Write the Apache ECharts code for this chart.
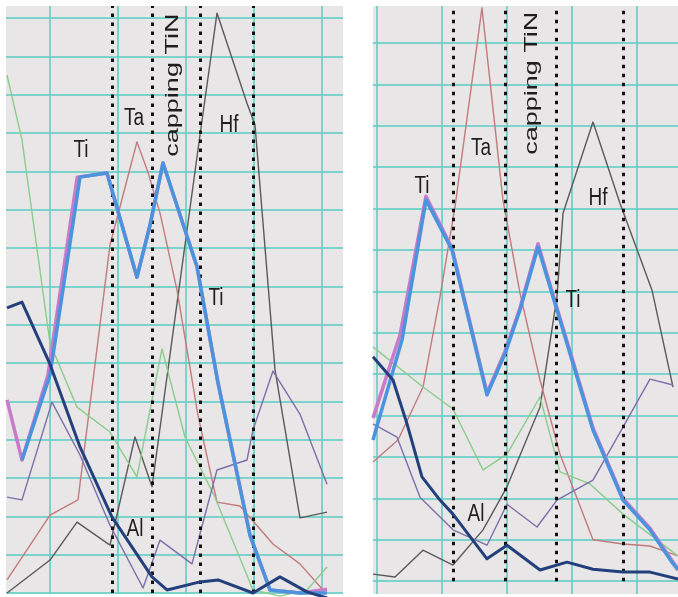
<!DOCTYPE html>
<html><head><meta charset="utf-8">
<script src="https://cdn.jsdelivr.net/npm/echarts@6/dist/echarts.min.js"></script>
<style>html,body{margin:0;padding:0;background:#fff}#c{width:678px;height:597px}</style>
</head><body><div id="c"></div>
<script>
// ---------- LEFT PANEL (depth units, intensity units) ----------
const leftTiX = [5.88,10.0,14.41,18.38,22.79,24.71,26.62,31.62,34.71,39.41,42.35,46.76,50.74];
const leftTiY = [34.7,56.9,108.5,109.6,82.4,96.0,112.2,85.1,54.8,15.1,0.8,0,0];
const leftTi2X = [3.68,5.88,9.7,14.0,18.38,22.79,24.71,26.62,31.62,34.71,39.41,42.35,46.76,50.74];
const leftTi2Y = [50.4,34.7,56.9,108.5,109.6,82.4,96.0,112.2,85.1,54.8,15.1,0.8,0,1.0];
const leftAlX = [3.68,5.88,10.0,14.41,19.12,25.0,27.21,32.06,34.71,39.85,43.82,47.79,50.74];
const leftAlY = [74.4,75.9,59.7,38.1,19.8,4.2,0.8,2.9,3.4,0,4.2,0.3,-1.3];
const leftGreenX = [3.68,5.88,10.0,13.97,18.82,22.79,26.47,29.85,34.26,39.85,43.82,47.79,50.74];
const leftGreenY = [135.1,118.2,65.2,48.5,42.0,30.3,63.7,40.7,25.0,0.8,-0.8,0.8,6.8];
const leftTaX = [3.68,10.0,14.12,18.82,22.79,24.41,26.18,28.68,31.76,34.56,37.94,42.79,46.76,50.15];
const leftTaY = [3.4,20.3,24.3,90.8,117.7,109.8,99.1,79.0,46.4,23.7,22.7,12.8,7.6,0.8];
const leftHfX = [3.68,10.0,13.97,18.82,22.5,25.0,27.94,32.06,34.56,38.97,40.15,43.09,46.76,50.74];
const leftHfY = [0,8.6,18.5,12.5,40.7,27.7,66.0,119.5,151.3,127.8,122.1,58.2,19.6,21.1];
const leftPurpleX = [3.68,5.88,10.29,14.41,18.82,23.68,26.18,30.88,34.56,38.97,39.85,42.79,46.76,50.74];
const leftPurpleY = [25.0,24.3,49.8,36.0,17.7,1.3,13.8,7.6,32.1,34.7,42.5,57.9,46.7,28.4];
const leftBoundaries = [19.12,25.0,32.06,39.85];
const leftLabels = [
  {text:'Ti', x:14.56, y:115.6},
  {text:'Ta', x:22.35, y:123.9},
  {text:'Hf', x:36.32, y:122.1},
  {text:'Ti', x:34.41, y:77.0},
  {text:'Al', x:22.5, y:16.7}
];
const leftCapping = {text:'capping TiN', x:28.09, y:132.5};

// ---------- RIGHT PANEL ----------
const rightTiX = [-0.62,3.85,7.54,11.54,16.92,19.69,22.0,24.77,27.69,31.23,33.23,37.85,42.0,45.38,46.31];
const rightTiY = [34.1,58.3,92.1,80.0,45.0,54.9,65.5,80.7,65.5,46.9,36.5,19.6,12.4,4.6,2.7];
const rightTi2X = [-0.62,3.54,7.54,11.54,16.92,19.69,22.0,24.77,27.69,31.23,33.23,37.85,42.0,45.38,46.31];
const rightTi2Y = [39.4,59.5,93.0,80.5,45.5,55.5,66.0,81.5,66.0,47.5,37.0,20.0,12.8,5.0,3.0];
const rightAlX = [-0.62,2.46,4.62,6.92,9.69,11.69,16.92,20.0,25.08,29.23,33.23,37.85,42.0,46.31];
const rightAlY = [54.2,48.6,38.0,25.2,19.6,16.2,5.4,8.7,2.7,4.6,2.9,2.2,2.2,0.5];
const rightGreenX = [-0.62,7.08,11.69,16.31,20.0,25.08,28.15,32.77,37.85,46.31];
const rightGreenY = [56.6,46.9,41.6,26.9,30.7,44.5,26.4,23.5,16.2,6.1];
const rightTaX = [-0.62,3.23,7.08,9.69,12.0,16.15,19.38,22.0,25.08,28.15,33.23,37.85,42.0,46.31];
const rightTaY = [28.8,34.1,46.9,68.7,90.4,138.5,92.1,69.6,48.6,30.7,10.0,9.0,8.5,6.1];
const rightHfX = [-0.62,2.77,7.08,11.69,16.31,20.0,25.08,27.69,28.62,33.23,37.38,42.31,45.54];
const rightHfY = [1.7,1.0,7.5,3.9,12.4,22.8,42.1,68.7,88.9,110.9,91.3,70.3,46.9];
const rightPurpleX = [-0.62,3.08,6.62,11.69,16.92,20.0,24.62,27.69,33.23,37.85,42.0,45.54];
const rightPurpleY = [38.0,34.8,20.3,12.4,8.7,18.6,13.1,19.6,24.4,37.2,48.8,47.4];
const rightBoundaries = [11.69,19.69,27.54,37.85];
const rightLabels = [
  {text:'Ti', x:6.92, y:95.5},
  {text:'Ta', x:16.0, y:104.6},
  {text:'Hf', x:34.0, y:92.6},
  {text:'Ti', x:30.15, y:67.9},
  {text:'Al', x:15.23, y:16.2}
];
const rightCapping = {text:'capping TiN', x:23.85, y:120.3};

const zip = (xs, ys) => xs.map((x, i) => [x, ys[i]]);
const chart = echarts.init(document.getElementById('c'), null, {renderer:'canvas'});

const GRIDC = 'rgba(96,206,196,0.8)';
const hide = {axisLine:{show:false}, axisTick:{show:false}, axisLabel:{show:false}};
// data axes: horizontal grid lines only
function dataX(gi, min, max){
  return Object.assign({gridIndex:gi, type:'value', min:min, max:max, splitLine:{show:false}}, hide);
}
function dataY(gi, max){
  return Object.assign({gridIndex:gi, type:'value', min:0, max:max, interval:10,
    splitLine:{show:true, showMaxLine:false, lineStyle:{color:GRIDC, width:2}}}, hide);
}
// helper grids: vertical grid lines only
function vertX(gi, max){
  return Object.assign({gridIndex:gi, type:'value', min:0, max:max, interval:10,
    splitLine:{show:true, showMaxLine:false, lineStyle:{color:GRIDC, width:2}}}, hide);
}
function vertY(gi){
  return Object.assign({gridIndex:gi, type:'value', min:0, max:1, splitLine:{show:false}}, hide);
}
function line(gi, name, xs, ys, color, width, z){
  return {type:'line', name:name, xAxisIndex:gi, yAxisIndex:gi, data:zip(xs, ys),
    showSymbol:false, symbol:'none', clip:false, z:z, silent:true, animation:false,
    lineStyle:{color:color, width:width, join:'round'}};
}
function boundaries(gi, vals){
  return {type:'line', xAxisIndex:gi, yAxisIndex:gi, data:[], z:10, silent:true, animation:false,
    markLine:{silent:true, symbol:['none','none'], label:{show:false}, animation:false,
      lineStyle:{color:'#111', width:3, type:[3.5,5.5]},
      data: vals.map(v => ({xAxis:v}))}};
}
function panelSeries(gi, d){
  return [
    line(gi,'Hf', d.hf[0], d.hf[1], '#5a5a5a', 1.4, 3),
    line(gi,'Ta', d.ta[0], d.ta[1], '#c27a7c', 1.4, 3),
    line(gi,'O', d.g[0], d.g[1], '#8ccc8c', 1.4, 3),
    line(gi,'N', d.p[0], d.p[1], '#7a70aa', 1.4, 3),
    line(gi,'Ti2', d.ti2[0], d.ti2[1], '#c77bc9', 3.5, 4),
    line(gi,'Ti', d.ti[0], d.ti[1], '#4b93dd', 3.5, 5),
    line(gi,'Al', d.al[0], d.al[1], '#23407c', 3, 5),
    boundaries(gi, d.b)
  ];
}

const option = {
  animation:false,
  backgroundColor:'#ffffff',
  grid:[
    {left:6, top:6, width:337, height:587, show:false},
    {left:373, top:6, width:305, height:575.2, show:false},
    {left:50, top:6, width:293, height:588, show:false},
    {left:377, top:6, width:301, height:588, show:false}
  ],
  xAxis:[dataX(0, 3.53, 53.09), dataX(1, -0.615, 46.31), vertX(2, 43.09), vertX(3, 46.31)],
  yAxis:[dataY(0, 153.15), dataY(1, 138.94), vertY(2), vertY(3)],
  series:[].concat(
    panelSeries(0, {hf:[leftHfX,leftHfY], ta:[leftTaX,leftTaY], g:[leftGreenX,leftGreenY], p:[leftPurpleX,leftPurpleY],
      ti2:[leftTi2X,leftTi2Y], ti:[leftTiX,leftTiY], al:[leftAlX,leftAlY], b:leftBoundaries}),
    panelSeries(1, {hf:[rightHfX,rightHfY], ta:[rightTaX,rightTaY], g:[rightGreenX,rightGreenY], p:[rightPurpleX,rightPurpleY],
      ti2:[rightTi2X,rightTi2Y], ti:[rightTiX,rightTiY], al:[rightAlX,rightAlY], b:rightBoundaries}),
    [{type:'line', xAxisIndex:2, yAxisIndex:2, data:[], silent:true},
     {type:'line', xAxisIndex:3, yAxisIndex:3, data:[], silent:true}]
  )
};
chart.setOption(option);

// panel backgrounds and labels placed through the axes
const FONT = '19px "Liberation Sans", Arial, sans-serif';
const elems = [
  {type:'rect', z:-100, silent:true, shape:{x:6, y:6, width:337, height:588}, style:{fill:'#e9e6e7'}},
  {type:'rect', z:-100, silent:true, shape:{x:373, y:6, width:305, height:588}, style:{fill:'#e9e6e7'}}
];
function addLabels(gi, labels, cap){
  labels.forEach(l => {
    const p = chart.convertToPixel({gridIndex:gi}, [l.x, l.y]);
    elems.push({type:'text', z:100, silent:true, x:p[0], y:p[1], scaleY:1.3,
      style:{text:l.text, font:FONT, fill:'#1e1e1e', align:'center', verticalAlign:'middle'}});
  });
  const c = chart.convertToPixel({gridIndex:gi}, [cap.x, cap.y]);
  elems.push({type:'text', z:100, silent:true, x:c[0], y:c[1], rotation:Math.PI/2, scaleX:1.5,
    style:{text:cap.text, font:'18px "Liberation Sans", Arial, sans-serif', fill:'#1e1e1e', align:'center', verticalAlign:'middle'}});
}
addLabels(0, leftLabels, leftCapping);
addLabels(1, rightLabels, rightCapping);
chart.setOption({graphic:{elements:elems}});
</script>
</body></html>
